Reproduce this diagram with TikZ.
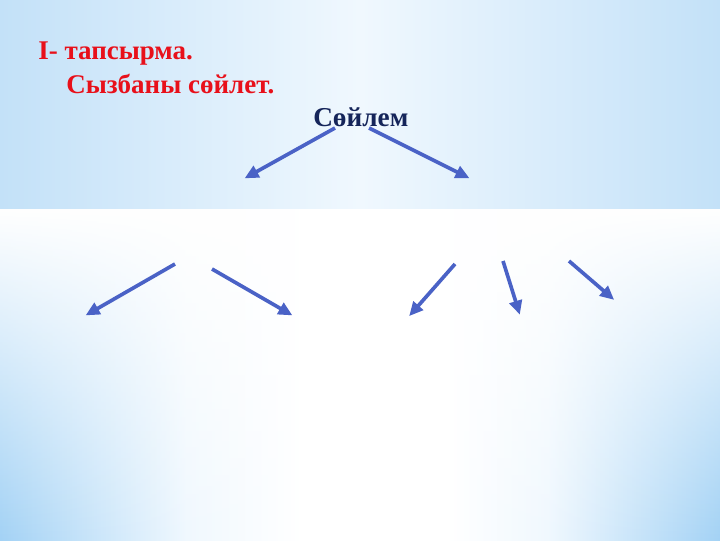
\documentclass[tikz,border=0pt]{standalone}
\usepackage{fontspec}
\setmainfont{Liberation Serif}
\usetikzlibrary{positioning}
\usetikzlibrary{arrows.meta}
\usetikzlibrary{fadings}
\definecolor{skyedge}{HTML}{C3E1F8}
\definecolor{skymid}{HTML}{F0F8FE}
\definecolor{skydeep}{HTML}{A3D2F5}
\definecolor{taskred}{HTML}{E8101A}
\definecolor{wordnavy}{HTML}{15255A}
\definecolor{arrowblue}{HTML}{4A62C6}
\pgfdeclarehorizontalshading{lowband}{100bp}{color(0bp)=(skydeep); color(25bp)=(skydeep); color(38bp)=(skymid); color(46bp)=(white); color(56bp)=(white); color(63bp)=(skymid); color(75bp)=(skydeep); color(100bp)=(skydeep)}
\tikzfading[name=fadedown, top color=transparent!0, bottom color=transparent!100]
\tikzset{
    taskline/.style = {anchor=base west, inner sep=0pt, text=taskred, font=\bfseries\fontsize{19.2}{22}\selectfont},
    wordnode/.style = {anchor=base west, inner sep=0pt, text=wordnavy, font=\bfseries\fontsize{19.4}{22}\selectfont},
}

\begin{document}
\begin{tikzpicture}[
	x=0.025cm,
	y=-0.025cm
]
\tikzset{
    arr/.style = {-{Triangle[length=10pt,width=9pt]}, line width=2.6pt, draw=arrowblue, fill=arrowblue, shorten >=-2pt}
}
\useasboundingbox (0,0) rectangle (720,540);
% background
\shade[left color=skyedge, right color=skyedge, middle color=skymid] (0,0) rectangle (720,209);
\shade[shading=lowband] (0,209) rectangle (720,540);
\fill[white, path fading=fadedown] (0,209) rectangle (720,540);
% texts
\node[taskline] at (38,59) (task) {I- тапсырма.};
\node[taskline] at (66,93) (draw) {Сызбаны сөйлет.};
\node[wordnode] at (313,126) (word) {Сөйлем};
% arrow ends
\coordinate (wl) at (335,128);
\coordinate (wr) at (369,128);
\coordinate (l) at (247,177);
\coordinate (r) at (467,177);
\coordinate (la) at (175,264);
\coordinate (lb) at (212,269);
\coordinate (ra) at (455,264);
\coordinate (rb) at (503,261);
\coordinate (rc) at (569,261);
\coordinate (l1) at (88,314);
\coordinate (l2) at (290,314);
\coordinate (r1) at (411,314);
\coordinate (r2) at (519,312);
\coordinate (r3) at (612,298);
%
\draw[arr] (wl) -- (l);
\draw[arr] (wr) -- (r);
%
\draw[arr] (la) -- (l1);
\draw[arr] (lb) -- (l2);
\draw[arr] (ra) -- (r1);
\draw[arr] (rb) -- (r2);
\draw[arr] (rc) -- (r3);
\end{tikzpicture}
\end{document}
